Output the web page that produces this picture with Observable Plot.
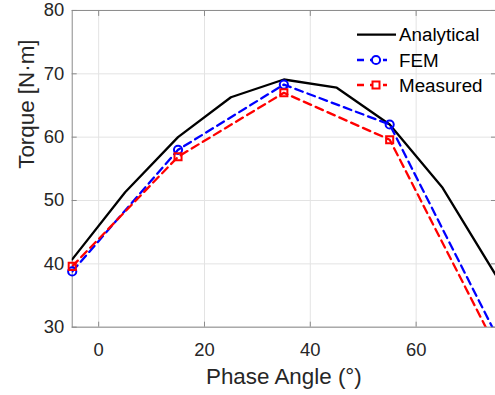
<!DOCTYPE html>
<html><head><meta charset="utf-8">
<script src="https://cdn.jsdelivr.net/npm/d3@7"></script>
<script src="https://cdn.jsdelivr.net/npm/@observablehq/plot@0.6"></script>
<style>
html,body{margin:0;padding:0;background:#fff;overflow:hidden;}
#wrap{position:relative;width:495px;height:395px;overflow:hidden;}
#legend{position:absolute;left:0;top:0;}
</style></head><body><div id="wrap"></div>
<script>
// Data
const anglesAnalytical = [-5, 5, 15, 25, 35, 45, 55, 65, 75];
const analytical = [40.7, 51.3, 60.0, 66.3, 69.1, 67.8, 62.0, 52.0, 38.3];
const anglesMeasured = [-5, 15, 35, 55, 75];
const fem = [38.8, 58.0, 68.3, 62.0, 29.0];
const measured = [39.6, 56.9, 67.0, 59.6, 27.0];
const xTicks = [0, 20, 40, 60];
const yTicks = [30, 40, 50, 60, 70, 80];
const seriesNames = ["Analytical", "FEM", "Measured"];
const seriesColors = ["#000000", "#0000ff", "#ff0000"];

const font = '"Liberation Sans", Arial, Helvetica, sans-serif';
const rowsA = anglesAnalytical.map((x, i) => ({x, y: analytical[i]}));
const rowsF = anglesMeasured.map((x, i) => ({x, y: fem[i]}));
const rowsM = anglesMeasured.map((x, i) => ({x, y: measured[i]}));
const inside = d => d.y >= 30 && d.y <= 80;
const axisGray = "#8a8a8a";
const lw = 2.3;
const dash = "8,5";

const chart = Plot.plot({
  width: 497, height: 395,
  marginTop: 10, marginBottom: 67, marginLeft: 72, marginRight: 0,
  style: {fontFamily: font, fontSize: "18px", color: "#262626", background: "white", overflow: "visible"},
  x: {domain: [-5, 75]},
  y: {domain: [30, 80]},
  marks: [
    Plot.gridX(xTicks, {stroke: "#e3e3e3", strokeOpacity: 1}),
    Plot.gridY(yTicks, {stroke: "#e3e3e3", strokeOpacity: 1}),
    Plot.frame({stroke: axisGray}),
    Plot.axisX(xTicks, {anchor: "bottom", tickSize: -5, tickPadding: 21, stroke: axisGray, fill: "#262626", fontSize: 18.5, label: null}),
    Plot.axisX(xTicks, {anchor: "top", tickSize: -5, tickFormat: () => "", stroke: axisGray, label: null}),
    Plot.axisY(yTicks, {anchor: "left", tickSize: -5, tickPadding: 13, stroke: axisGray, fill: "#262626", fontSize: 18.5, label: null}),
    Plot.axisY(yTicks, {anchor: "right", tickSize: -5, tickFormat: () => "", stroke: axisGray, label: null}),
    Plot.line(rowsA, {x: "x", y: "y", stroke: seriesColors[0], strokeWidth: lw, clip: true}),
    Plot.line(rowsF, {x: "x", y: "y", stroke: seriesColors[1], strokeWidth: lw, strokeDasharray: dash, clip: true}),
    Plot.line(rowsM, {x: "x", y: "y", stroke: seriesColors[2], strokeWidth: lw, strokeDasharray: dash, clip: true}),
    Plot.dot(rowsF, {x: "x", y: "y", filter: inside, symbol: "circle", r: 4.1, stroke: seriesColors[1], strokeWidth: 2, fill: "none"}),
    Plot.dot(rowsM, {x: "x", y: "y", filter: inside, symbol: "square", r: 4.0, stroke: seriesColors[2], strokeWidth: 2, fill: "none"}),
    Plot.text(["Phase Angle (°)"], {frameAnchor: "bottom", dy: 57, lineAnchor: "bottom", fontSize: 22.5, fill: "#262626", text: d => d}),
    Plot.text(["Torque [N·m]"], {frameAnchor: "left", dx: -46, rotate: -90, lineAnchor: "middle", fontSize: 22.5, fill: "#262626", text: d => d})
  ]
});
const wrap = document.getElementById("wrap");
wrap.appendChild(chart);

// Legend overlay (inside the plot area, top right, no box)
const ns = "http://www.w3.org/2000/svg";
const leg = document.createElementNS(ns, "svg");
leg.setAttribute("id", "legend");
leg.setAttribute("width", 495);
leg.setAttribute("height", 110);
leg.style.fontFamily = font;
const rowsY = [34.7, 60, 85];
seriesNames.forEach((name, i) => {
  const y = rowsY[i];
  const ln = document.createElementNS(ns, "line");
  ln.setAttribute("x1", 357); ln.setAttribute("x2", i === 0 ? 396 : 387);
  ln.setAttribute("y1", y); ln.setAttribute("y2", y);
  ln.setAttribute("stroke", seriesColors[i]);
  ln.setAttribute("stroke-width", lw);
  if (i > 0) ln.setAttribute("stroke-dasharray", "7,6");
  leg.appendChild(ln);
  if (i === 1) {
    const c = document.createElementNS(ns, "circle");
    c.setAttribute("cx", 376); c.setAttribute("cy", y); c.setAttribute("r", 4.1);
    c.setAttribute("fill", "white"); c.setAttribute("stroke", seriesColors[i]); c.setAttribute("stroke-width", 2);
    leg.appendChild(c);
  } else if (i === 2) {
    const s = document.createElementNS(ns, "rect");
    s.setAttribute("x", 376 - 3.5); s.setAttribute("y", y - 3.5); s.setAttribute("width", 7); s.setAttribute("height", 7);
    s.setAttribute("fill", "white"); s.setAttribute("stroke", seriesColors[i]); s.setAttribute("stroke-width", 2);
    leg.appendChild(s);
  }
  const t = document.createElementNS(ns, "text");
  t.setAttribute("x", 399); t.setAttribute("y", y + 6.7);
  t.setAttribute("font-size", 18.8);
  t.setAttribute("fill", "#000");
  t.textContent = name;
  leg.appendChild(t);
});
wrap.appendChild(leg);
</script>
</body></html>
